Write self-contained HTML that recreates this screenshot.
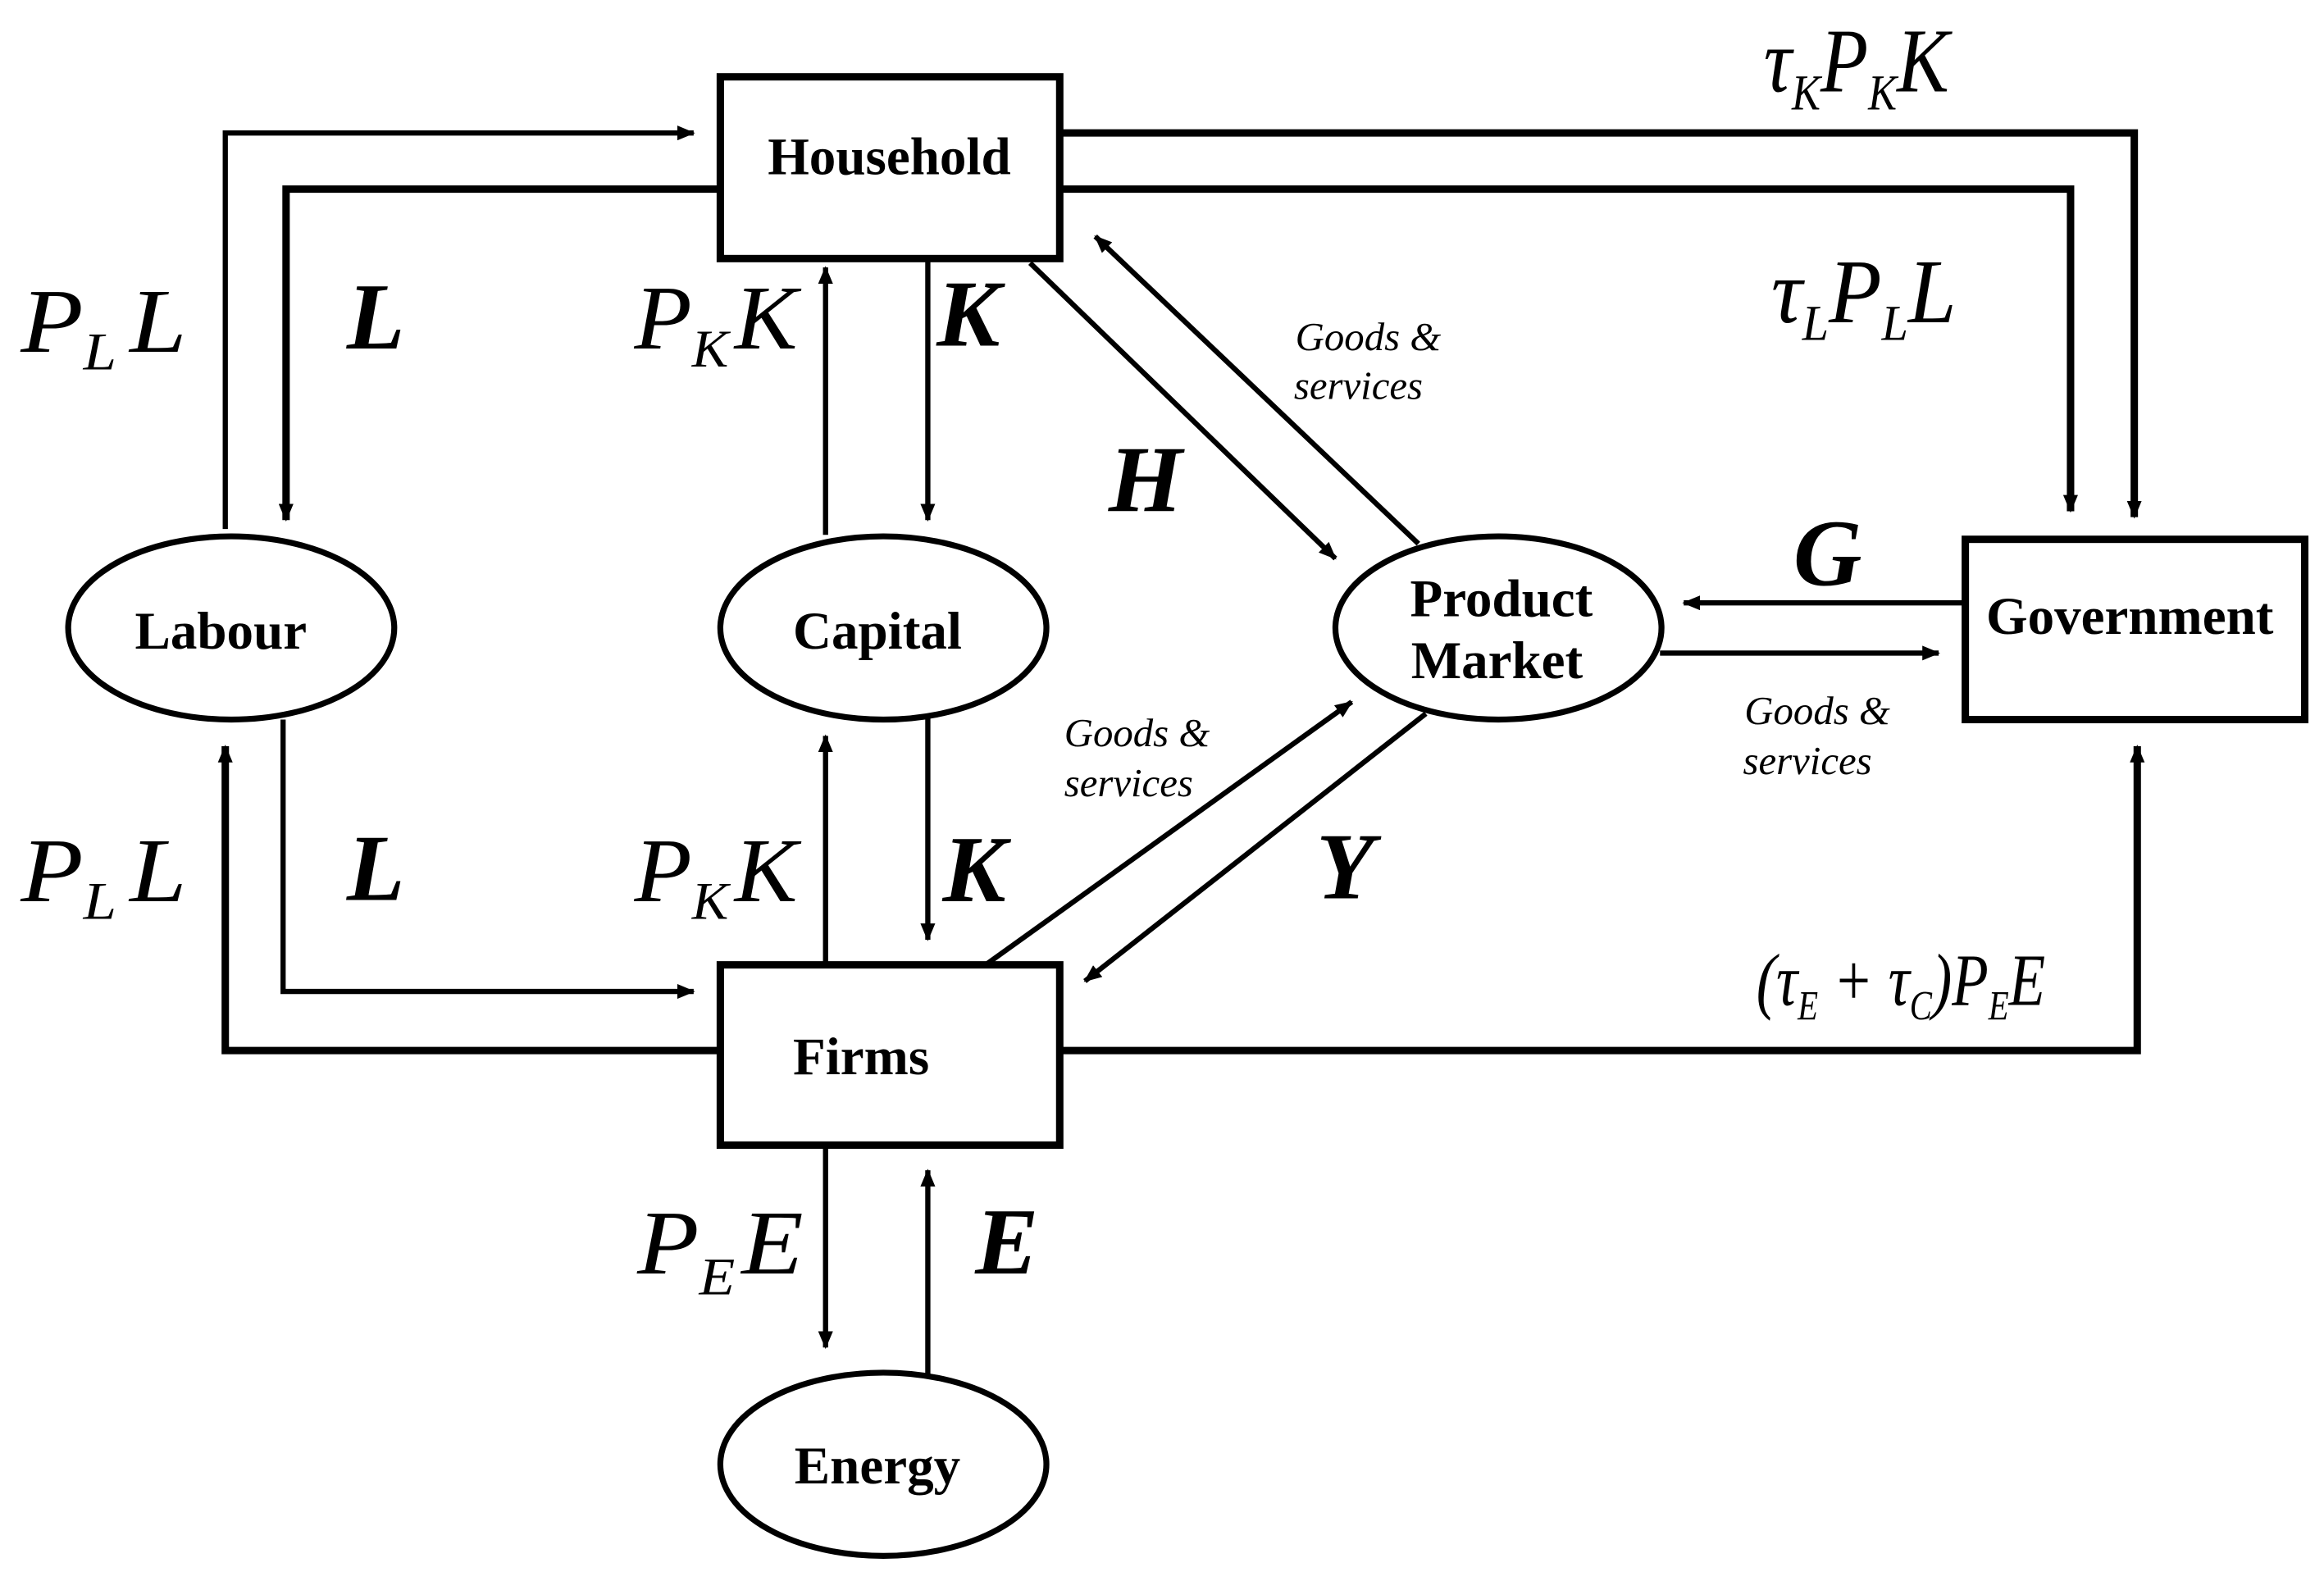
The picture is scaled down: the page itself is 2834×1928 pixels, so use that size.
<!DOCTYPE html>
<html><head><meta charset="utf-8"><style>html,body{margin:0;padding:0;background:#fff}svg{display:block}</style></head>
<body>
<svg width="2834" height="1928" viewBox="0 0 1568 1070" preserveAspectRatio="none" xmlns="http://www.w3.org/2000/svg">
<defs>
<marker id="a" markerWidth="12" markerHeight="10" refX="11" refY="5" orient="auto" markerUnits="userSpaceOnUse"><path d="M0,0 L12,5 L0,10 Z" fill="#000"/></marker>
</defs>
<g fill="none" stroke="#000">
<rect x="486" y="52" width="229" height="123" stroke-width="5"/>
<rect x="486" y="653" width="229" height="122" stroke-width="5"/>
<rect x="1326" y="365" width="229" height="122" stroke-width="5"/>
<ellipse cx="156" cy="425" rx="110" ry="62" stroke-width="4"/>
<ellipse cx="596" cy="425" rx="110" ry="62" stroke-width="4"/>
<ellipse cx="1011" cy="425" rx="110" ry="62" stroke-width="4"/>
<ellipse cx="596" cy="991" rx="110" ry="62" stroke-width="4"/>
</g>
<g fill="none" stroke="#000" stroke-width="3.5">
<polyline points="152,358 152,90 468,90" marker-end="url(#a)"/>
<polyline points="486,128 193,128 193,352" stroke-width="5" marker-end="url(#a)"/>
<polyline points="715,90 1440,90 1440,350" stroke-width="5" marker-end="url(#a)"/>
<polyline points="715,128 1397,128 1397,346" stroke-width="5" marker-end="url(#a)"/>
<line x1="557" y1="362" x2="557" y2="181" marker-end="url(#a)"/>
<line x1="626" y1="177" x2="626" y2="352" marker-end="url(#a)"/>
<line x1="695" y1="178" x2="901" y2="378" marker-end="url(#a)"/>
<line x1="957" y1="368" x2="739" y2="160" marker-end="url(#a)"/>
<line x1="1326" y1="408" x2="1136" y2="408" marker-end="url(#a)"/>
<line x1="1120" y1="442" x2="1308" y2="442" marker-end="url(#a)"/>
<polyline points="486,711 152,711 152,505" stroke-width="5" marker-end="url(#a)"/>
<polyline points="191,487 191,671 468,671" marker-end="url(#a)"/>
<line x1="557" y1="653" x2="557" y2="498" marker-end="url(#a)"/>
<line x1="626" y1="486" x2="626" y2="636" marker-end="url(#a)"/>
<line x1="665" y1="653" x2="912" y2="475" marker-end="url(#a)"/>
<line x1="962" y1="483" x2="732" y2="664" marker-end="url(#a)"/>
<polyline points="715,711 1442,711 1442,505" stroke-width="5" marker-end="url(#a)"/>
<line x1="557" y1="777" x2="557" y2="912" marker-end="url(#a)"/>
<line x1="626" y1="930" x2="626" y2="792" marker-end="url(#a)"/>
</g>
<g font-family="Liberation Serif, serif" font-weight="bold" font-size="36" text-anchor="middle" fill="#000">
<text x="600" y="118">Household</text>
<text x="581" y="727">Firms</text>
<text x="1437" y="429">Government</text>
<text x="149" y="439">Labour</text>
<text x="592" y="439">Capital</text>
<text x="1013" y="417">Product</text>
<text x="1010" y="459">Market</text>
<text x="592" y="1004">Energy</text>
</g>
<g font-family="Liberation Serif, serif" font-style="italic" fill="#000">
<g font-size="62">
<text x="14" y="238" textLength="112" lengthAdjust="spacingAndGlyphs">P<tspan font-size="36" dy="12">L</tspan><tspan dx="8" dy="-12">L</tspan></text>
<text x="14" y="610" textLength="112" lengthAdjust="spacingAndGlyphs">P<tspan font-size="36" dy="12">L</tspan><tspan dx="8" dy="-12">L</tspan></text>
<text x="428" y="236" textLength="110" lengthAdjust="spacingAndGlyphs">P<tspan font-size="36" dy="12">K</tspan><tspan dx="4" dy="-12">K</tspan></text>
<text x="428" y="610" textLength="110" lengthAdjust="spacingAndGlyphs">P<tspan font-size="36" dy="12">K</tspan><tspan dx="4" dy="-12">K</tspan></text>
<text x="430" y="862" textLength="112" lengthAdjust="spacingAndGlyphs">P<tspan font-size="36" dy="14">E</tspan><tspan dx="4" dy="-14">E</tspan></text>
<text x="1190" y="62" textLength="125" lengthAdjust="spacingAndGlyphs">τ<tspan font-size="34" dy="12">K</tspan><tspan dy="-12">P</tspan><tspan font-size="34" dy="12">K</tspan><tspan dy="-12">K</tspan></text>
<text x="1195" y="218" textLength="125" lengthAdjust="spacingAndGlyphs">τ<tspan font-size="34" dy="12">L</tspan><tspan dy="-12">P</tspan><tspan font-size="34" dy="12">L</tspan><tspan dy="-12">L</tspan></text>
<text x="1185" y="680" font-size="50" textLength="195" lengthAdjust="spacingAndGlyphs">(τ<tspan font-size="28" dy="10">E</tspan><tspan dy="-10"> + τ</tspan><tspan font-size="28" dy="10">C</tspan><tspan dy="-10">)P</tspan><tspan font-size="28" dy="10">E</tspan><tspan dy="-10">E</tspan></text>
</g>
<g font-weight="bold" font-size="64">
<text x="234" y="236">L</text>
<text x="234" y="609">L</text>
<text x="632" y="234">K</text>
<text x="636" y="610">K</text>
<text x="748" y="346">H</text>
<text x="888" y="608">Y</text>
<text x="1210" y="396">G</text>
<text x="658" y="862">E</text>
</g>
<g font-size="27">
<text x="874" y="237">Goods &amp;</text>
<text x="873" y="270">services</text>
<text x="718" y="505">Goods &amp;</text>
<text x="718" y="539">services</text>
<text x="1177" y="490">Goods &amp;</text>
<text x="1176" y="524">services</text>
</g>
</g>
</svg>
</body></html>
